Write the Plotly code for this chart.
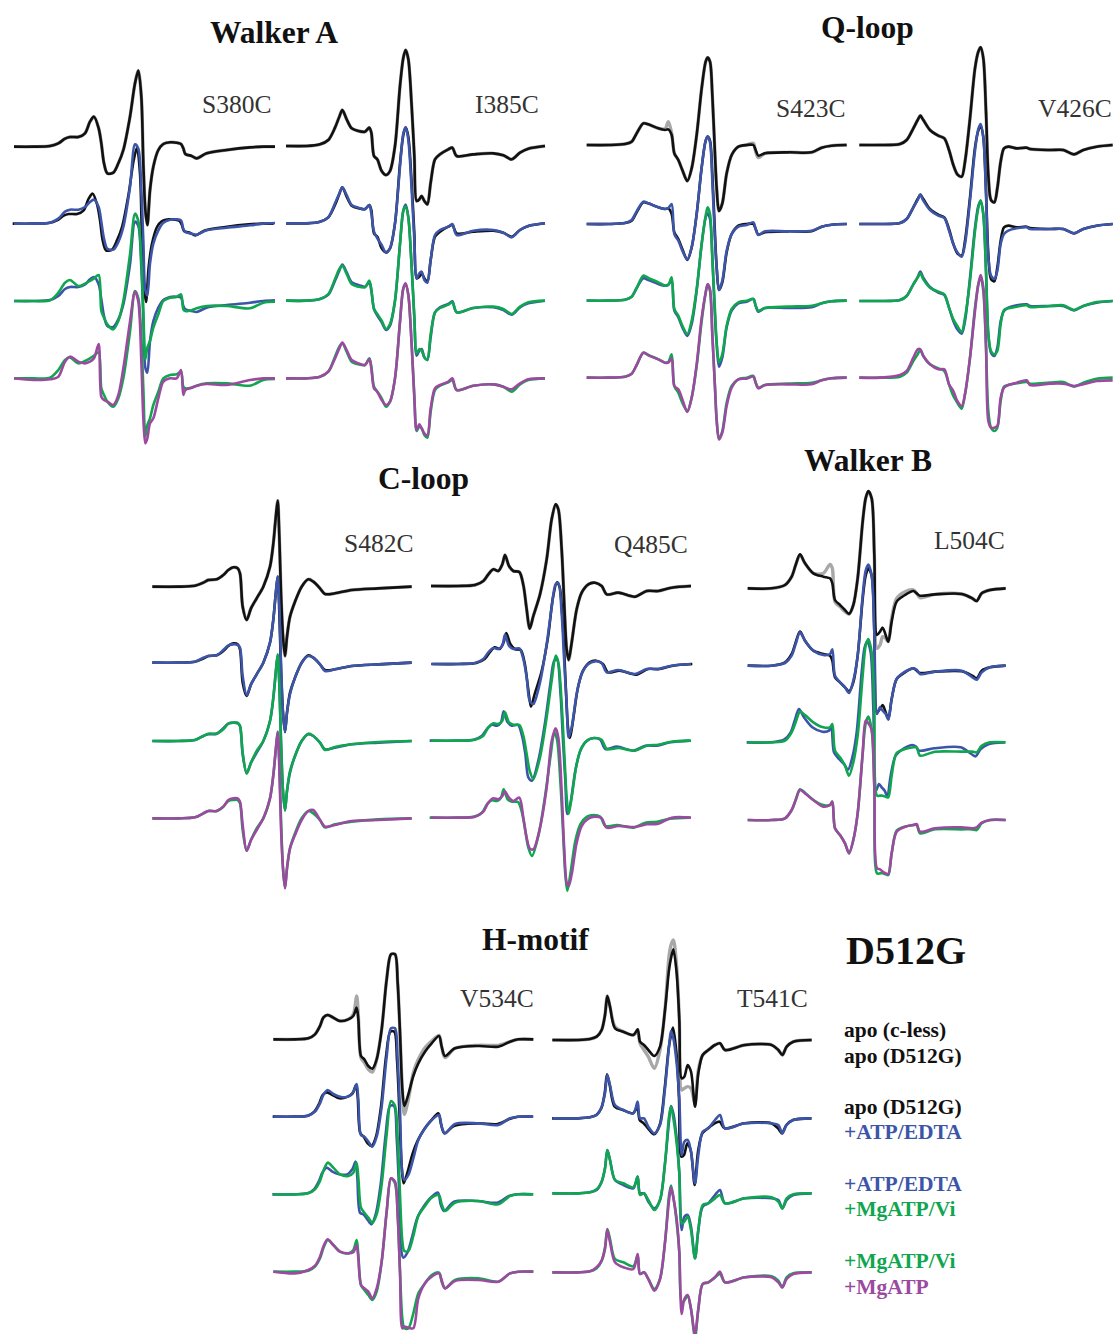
import plotly.graph_objects as go

W, H = 1113, 1334
BLACK, GREY, BLUE, GREEN, PURPLE = "#111111", "#a8a8a8", "#3c55a8", "#10a650", "#9c4aa0"

# field position / signal values (1 unit = 1/3 image pixel)
S380C_X = [42,100,150,175,195,210,235,255,270,282,296,304,312,322,340,355,370,390,405,415,424,430,436,442,450,460,475,490,510,530,543,550,556,575,590,620,680,750,790,825]
S380C_APO = [0,0,2,10,24,29,29,40,75,90,55,10,-50,-80,-78,-50,-10,90,190,228,150,-50,-190,-235,-130,-60,-10,8,13,12,8,-5,-22,-28,-35,-20,-10,-2,0,0]
S380C_EDTA = [0,0,3,15,36,42,42,50,65,72,50,5,-45,-75,-78,-55,-10,110,238,225,100,-50,-200,-215,-120,-60,-20,3,12,13,10,-15,-25,-30,-33,-20,-12,-5,0,2]
S380C_VI = [0,0,2,25,55,63,45,52,60,68,78,-30,-50,-70,-85,-60,0,140,262,240,120,-30,-175,-140,-120,-80,-40,0,10,12,20,-25,-30,-28,-22,-15,-15,-22,-5,-2]
S380C_ATP = [0,-5,-3,5,50,65,50,45,50,60,103,-55,-65,-70,-80,-50,30,170,260,230,50,-120,-195,-180,-135,-120,-60,-10,0,0,25,-50,-35,-28,-22,-17,-20,-5,0,0]

I385C_X = [18,80,120,145,165,178,187,200,215,235,255,268,274,282,292,305,318,330,345,360,370,377,385,395,403,410,418,425,433,442,452,465,480,505,517,530,580,640,670,695,720,745,795]
I385C_APO = [0,0,5,18,55,88,108,80,53,45,43,55,40,-30,-40,-75,-87,-75,0,180,265,288,260,120,-30,-165,-160,-150,-165,-175,-110,-40,-25,-10,-5,-30,-25,-22,-28,-40,-20,-8,0]
I385C_EDTA = [0,0,5,18,60,90,108,85,55,47,42,55,30,-25,-45,-65,-88,-75,0,170,270,288,250,100,-50,-165,-150,-145,-170,-178,-110,-35,-20,-10,-2,-35,-22,-20,-28,-42,-20,-8,0]
I385C_VI = [0,0,5,20,65,95,105,80,50,42,40,60,35,-25,-40,-60,-85,-70,0,170,270,282,250,100,-50,-158,-145,-150,-170,-178,-100,-35,-22,-12,-5,-35,-22,-18,-25,-40,-18,-5,0]
I385C_ATP = [0,0,5,20,60,90,107,85,55,45,40,58,30,-30,-40,-65,-80,-70,0,170,270,285,250,100,-60,-155,-138,-150,-165,-172,-90,-30,-20,-10,0,-35,-22,-18,-25,-33,-15,-3,0]

S423C_X = [35,100,150,170,185,205,220,250,270,280,290,298,310,322,337,350,365,380,392,398,405,412,420,425,432,442,455,470,490,515,535,542,550,570,640,710,740,770,815]
S423C_APO = [0,0,3,10,35,65,62,50,45,47,30,-25,-45,-75,-108,-70,30,170,250,262,250,150,-30,-130,-198,-175,-85,-30,-5,0,0,-15,-32,-25,-22,-22,-8,-2,0]
S423C_CLESS = [0,0,3,10,35,65,62,50,48,70,35,-25,-45,-75,-108,-70,30,170,250,262,250,150,-30,-130,-198,-175,-85,-30,-5,0,5,-20,-38,-25,-22,-22,-8,-2,0]
S423C_EDTA = [0,0,3,12,38,67,62,50,45,48,60,-30,-50,-80,-106,-70,30,170,250,262,245,130,-50,-130,-198,-170,-80,-30,-8,-3,5,-15,-33,-22,-22,-20,-8,-2,0]
S423C_VI = [0,0,3,12,38,75,68,55,45,47,70,-25,-45,-75,-100,-60,35,170,255,280,260,130,-30,-125,-185,-160,-75,-25,-5,0,5,-15,-30,-22,-18,-15,-8,-2,0]
S423C_ATP = [0,0,3,12,38,75,67,55,45,45,58,-25,-35,-65,-103,-60,40,180,255,280,265,130,-30,-130,-185,-165,-85,-30,-5,-3,3,-15,-32,-22,-20,-20,-8,-2,0]

V426C_X = [28,90,150,170,190,203,211,220,240,265,283,297,310,322,335,345,360,375,385,392,400,408,415,423,433,442,452,462,475,500,530,540,600,640,672,700,740,788]
V426C_APO = [0,0,3,15,50,75,88,75,45,28,20,-15,-60,-88,-95,-50,80,230,280,293,260,100,-90,-165,-172,-130,-50,-10,-5,-10,-8,-12,-15,-15,-28,-15,-5,0]
V426C_EDTA = [0,0,3,15,50,72,88,70,42,25,18,-20,-60,-85,-98,-60,70,220,285,300,260,90,-100,-155,-165,-140,-60,-30,-20,-13,-10,-15,-15,-15,-28,-15,-5,0]
V426C_VI = [0,0,3,15,50,70,83,65,40,28,20,-20,-55,-75,-93,-50,60,210,280,302,260,90,-100,-150,-160,-150,-70,-27,-22,-17,-13,-18,-15,-13,-27,-15,-3,0]
V426C_ATP = [0,0,8,20,60,85,85,65,40,25,25,-20,-40,-70,-85,-50,60,200,280,308,270,100,-130,-150,-150,-145,-60,-30,-22,-15,-8,-22,-18,-18,-25,-20,-10,-8]

S482C_X = [22,100,150,175,190,215,235,250,265,278,285,293,305,318,335,355,375,385,392,398,403,408,414,420,426,435,450,470,490,505,525,540,570,620,700,800]
S482C_APO = [0,0,3,12,20,22,35,50,58,55,40,-60,-100,-65,-35,0,60,130,205,258,150,-20,-150,-208,-150,-90,-45,0,22,15,-5,-22,-20,-10,-5,0]
S482C_EDTA = [0,0,3,15,20,22,38,52,55,53,45,-40,-97,-65,-35,0,60,130,205,258,170,0,-150,-208,-150,-95,-45,0,20,15,-5,-25,-20,-10,-5,0]
S482C_VI = [0,0,3,15,22,22,35,52,55,55,45,-35,-97,-65,-30,0,60,130,200,260,170,0,-150,-208,-150,-90,-45,0,22,15,-5,-27,-18,-10,-3,0]
S482C_ATP = [0,0,3,15,22,22,35,55,60,60,50,-20,-97,-65,-35,0,60,130,205,258,150,-30,-150,-210,-150,-90,-50,-5,22,25,-5,-25,-20,-8,-5,0]

Q485C_X = [18,100,150,175,190,205,220,232,240,252,265,283,295,305,314,325,345,365,380,392,400,410,418,425,431,440,455,470,490,510,530,545,580,630,665,700,740,798]
Q485C_APO = [0,0,3,15,35,50,45,65,93,60,45,42,3,-70,-128,-90,-25,80,200,245,230,110,-60,-190,-222,-170,-70,-20,5,10,0,-25,-20,-32,-15,-15,-5,0]
Q485C_EDTA = [0,0,3,15,35,48,45,55,88,55,45,47,15,-40,-110,-120,-55,60,170,240,243,150,0,-120,-220,-190,-90,-30,0,8,3,-25,-18,-30,-15,-15,-5,0]
Q485C_VI = [0,0,3,15,40,52,50,60,85,55,48,47,15,-40,-90,-115,-50,70,180,255,235,110,-40,-170,-220,-170,-70,-20,3,8,3,-25,-22,-30,-15,-12,-3,0]
Q485C_ATP = [0,0,3,18,45,58,55,65,78,60,50,60,0,-60,-92,-95,-30,90,230,268,240,80,-100,-195,-205,-170,-75,-25,-3,3,-2,-30,-25,-28,-20,-18,0,0]

L504C_X = [38,110,150,170,182,195,210,235,265,285,292,300,315,330,342,355,368,383,392,400,410,418,426,435,443,452,460,470,485,510,535,545,555,600,680,712,725,740,765,812]
L504C_APO = [0,0,10,35,70,102,75,45,35,30,15,-35,-50,-65,-77,-50,30,200,270,292,270,100,-140,-130,-118,-140,-160,-100,-40,-20,-8,-15,-22,-18,-17,-30,-38,-15,-5,0]
L504C_CLESS = [0,0,10,35,70,100,75,45,45,72,60,-40,-55,-70,-77,-50,30,200,270,290,270,100,-180,-170,-145,-150,-160,-90,-30,-10,-5,-15,-28,-18,-17,-30,-38,-15,-5,0]
L504C_EDTA = [0,0,8,30,65,100,75,45,32,35,49,-30,-50,-65,-82,-45,30,210,285,303,270,100,-145,-125,-135,-145,-162,-100,-40,-18,-8,-12,-25,-18,-15,-35,-42,-20,-5,0]
L504C_VI = [0,0,5,30,60,92,82,60,45,45,55,-25,-45,-70,-100,-60,20,200,290,310,270,100,-160,-160,-160,-163,-165,-100,-32,-20,-15,-15,-40,-28,-28,-28,-30,-10,0,0]
L504C_ATP = [0,0,5,30,60,90,80,60,40,45,55,-25,-45,-70,-100,-60,20,200,298,290,270,100,-145,-148,-155,-160,-162,-100,-35,-20,-15,-12,-35,-25,-22,-25,-22,-8,0,0]

V534C_X = [25,90,130,150,165,175,188,205,225,250,265,275,280,288,298,310,322,335,350,365,378,390,398,405,412,418,430,445,460,480,500,522,530,540,570,640,700,735,760,805]
V534C_APO = [0,0,3,15,40,65,73,65,55,60,70,95,60,-50,-60,-80,-88,-60,30,180,255,255,170,20,-150,-200,-165,-110,-72,-37,-12,10,-22,-50,-27,-20,-22,-7,0,0]
V534C_CLESS = [0,0,3,15,40,65,73,65,55,60,75,130,70,-55,-70,-90,-98,-60,30,180,255,255,170,20,-150,-225,-180,-100,-60,-25,-5,12,-22,-55,-27,-18,-18,-7,0,0]
V534C_EDTA = [0,0,3,15,40,65,80,68,60,60,75,98,50,-55,-60,-75,-90,-60,30,180,265,265,170,20,-170,-190,-175,-125,-70,-35,-10,5,-30,-50,-22,-20,-25,-5,0,0]
V534C_VI = [0,0,3,15,40,70,95,80,60,55,65,95,50,-40,-55,-70,-85,-60,30,180,280,265,170,0,-140,-170,-170,-125,-65,-35,-10,-3,-30,-50,-25,-20,-30,-5,0,0]
V534C_ATP = [0,-5,5,18,45,75,97,80,60,55,58,80,40,-40,-50,-60,-80,-50,30,180,280,270,170,0,-170,-165,-168,-170,-80,-35,-15,-5,-25,-50,-28,-25,-30,-5,0,0]

T541C_X = [22,100,135,155,170,180,187,195,210,235,265,278,285,297,310,328,345,360,372,378,385,395,403,410,418,428,438,450,460,473,490,510,525,540,600,680,700,712,725,745,800]
T541C_APO = [0,0,3,10,30,75,132,100,35,25,15,32,-5,-15,-30,-48,-20,90,210,245,272,200,60,-115,-110,-75,-95,-200,-100,-45,-30,-15,-10,-30,-15,-15,-30,-45,-20,-5,0]
T541C_CLESS = [0,0,3,10,30,75,132,100,40,25,15,25,-10,-30,-50,-85,-30,90,250,285,300,220,60,-150,-145,-140,-145,-190,-90,-45,-30,-15,-10,-30,-15,-15,-30,-45,-20,-5,0]
T541C_EDTA = [0,0,3,10,35,75,130,100,40,25,15,50,0,0,-25,-45,-20,90,215,262,240,165,60,-110,-70,-65,-100,-195,-110,-40,-30,-5,10,-30,-15,-15,-20,-45,-20,-5,0]
T541C_VI = [0,0,3,12,35,75,130,100,40,30,18,50,-5,0,-20,-50,-20,90,230,260,225,150,60,-90,-85,-70,-110,-195,-110,-35,-30,-15,-5,-30,-15,-12,-25,-45,-15,-3,0]
T541C_ATP = [0,0,3,15,35,70,128,90,30,15,10,55,-5,0,-20,-55,-20,90,215,255,225,160,60,-125,-80,-68,-110,-185,-110,-35,-30,-15,2,-30,-15,-15,-30,-45,-20,-5,0]

PANELS = [
    # name, crop (left, top, width, height), baselines, shifts of the overlaid trace in rows 2-4, x, apo, c-less, edta, vi, atp
    ("S380C", (0,10,285,440), (410,641,873,1105), (-4,0,0), S380C_X, S380C_APO, S380C_APO, S380C_EDTA, S380C_VI, S380C_ATP),
    ("I385C", (280,10,285,440), (408,640,872,1105), (0,0,0), I385C_X, I385C_APO, I385C_APO, I385C_EDTA, I385C_VI, I385C_ATP),
    ("S423C", (575,10,285,440), (405,642,872,1103), (0,0,0), S423C_X, S423C_APO, S423C_CLESS, S423C_EDTA, S423C_VI, S423C_ATP),
    ("V426C", (850,10,263,440), (405,642,873,1103), (0,0,0), V426C_X, V426C_APO, V426C_APO, V426C_EDTA, V426C_VI, V426C_ATP),
    ("S482C", (145,460,285,440), (380,608,843,1075), (0,0,0), S482C_X, S482C_APO, S482C_APO, S482C_EDTA, S482C_VI, S482C_ATP),
    ("Q485C", (425,460,285,440), (378,612,842,1073), (4,-4,-4), Q485C_X, Q485C_APO, Q485C_APO, Q485C_EDTA, Q485C_VI, Q485C_ATP),
    ("L504C", (735,440,285,450), (445,677,907,1140), (0,-3,0), L504C_X, L504C_APO, L504C_CLESS, L504C_EDTA, L504C_VI, L504C_ATP),
    ("V534C", (265,920,285,414), (358,590,823,1055), (-2,-3,0), V534C_X, V534C_APO, V534C_CLESS, V534C_EDTA, V534C_VI, V534C_ATP),
    ("T541C", (545,920,285,414), (360,595,820,1057), (-1,0,0), T541C_X, T541C_APO, T541C_CLESS, T541C_EDTA, T541C_VI, T541C_ATP),
]

TITLES = [("Walker A",274,33),("Q-loop",867,28),("C-loop",423,478),("Walker B",868,460),("H-motif",535,939)]
LABELS = [("S380C",236,104),("I385C",507,104),("S423C",810,108),("V426C",1075,108),("S482C",378,543),
          ("Q485C",651,544),("L504C",969,541),("V534C",497,999),("T541C",772,998)]
LEGEND = [("apo (c-less)",1030,BLACK),("apo (D512G)",1056,BLACK),("apo (D512G)",1107,BLACK),("+ATP/EDTA",1132,BLUE),
          ("+ATP/EDTA",1184,BLUE),("+MgATP/Vi",1209,GREEN),("+MgATP/Vi",1261,GREEN),("+MgATP",1287,PURPLE)]

fig = go.Figure()
layout_axes = {}
for i, (name, (cx, cy, cw, ch), bases, shifts, xs, apo, cless, edta, vi, atp) in enumerate(PANELS, start=1):
    for s in (apo, cless, edta, vi, atp):
        if len(s) != len(xs):
            raise ValueError(f"{name}: {len(s)} vs {len(xs)}")
    suffix = "" if i == 1 else str(i)
    layout_axes[f"xaxis{suffix}"] = dict(domain=[cx/W, (cx+cw)/W], range=[0, 3*cw], visible=False, anchor=f"y{suffix}")
    layout_axes[f"yaxis{suffix}"] = dict(domain=[1-(cy+ch)/H, 1-cy/H], range=[-3*ch, 0], visible=False, anchor=f"x{suffix}")
    pairs = [(0, cless, GREY, 3.4, 0), (0, apo, BLACK, 2.6, 0),
             (1, apo, BLACK, 2.6, shifts[0]), (1, edta, BLUE, 2.6, 0),
             (2, edta, BLUE, 2.6, shifts[1]), (2, vi, GREEN, 2.6, 0),
             (3, vi, GREEN, 2.6, shifts[2]), (3, atp, PURPLE, 2.6, 0)]
    for row, vals, color, width, dx in pairs:
        fig.add_trace(go.Scatter(x=[v + dx for v in xs], y=[v - bases[row] for v in vals], mode="lines", cliponaxis=False,
                                 line=dict(color=color, width=width, shape="spline", smoothing=0.85),
                                 xaxis=f"x{suffix}", yaxis=f"y{suffix}", showlegend=False, hoverinfo="skip"))

SERIF = "Liberation Serif"
ann = []
def text(t, x, y, size, color, bold=False, anchor="center"):
    ann.append(dict(text=f"<b>{t}</b>" if bold else t, x=x/W, y=1-y/H, xref="paper", yref="paper", showarrow=False,
                    xanchor=anchor, yanchor="middle", font=dict(family=SERIF, size=size, color=color)))
for t, x, y in TITLES:
    text(t, x, y, 31.5, "#111111", True)
for t, x, y in LABELS:
    text(t, x, y, 25.5, "#333333")
text("D512G", 906, 950, 40, "#111111", True)
for t, y, c in LEGEND:
    text(t, 842, y, 21.5, c, True, "left")

fig.update_layout(width=W, height=H, margin=dict(l=0, r=0, t=0, b=0), paper_bgcolor="white", plot_bgcolor="white",
                  showlegend=False, annotations=ann, **layout_axes)
fig.write_html("out.html", config={"displayModeBar": False},
               post_script="document.body.style.margin='0';document.documentElement.style.overflow='hidden';")
